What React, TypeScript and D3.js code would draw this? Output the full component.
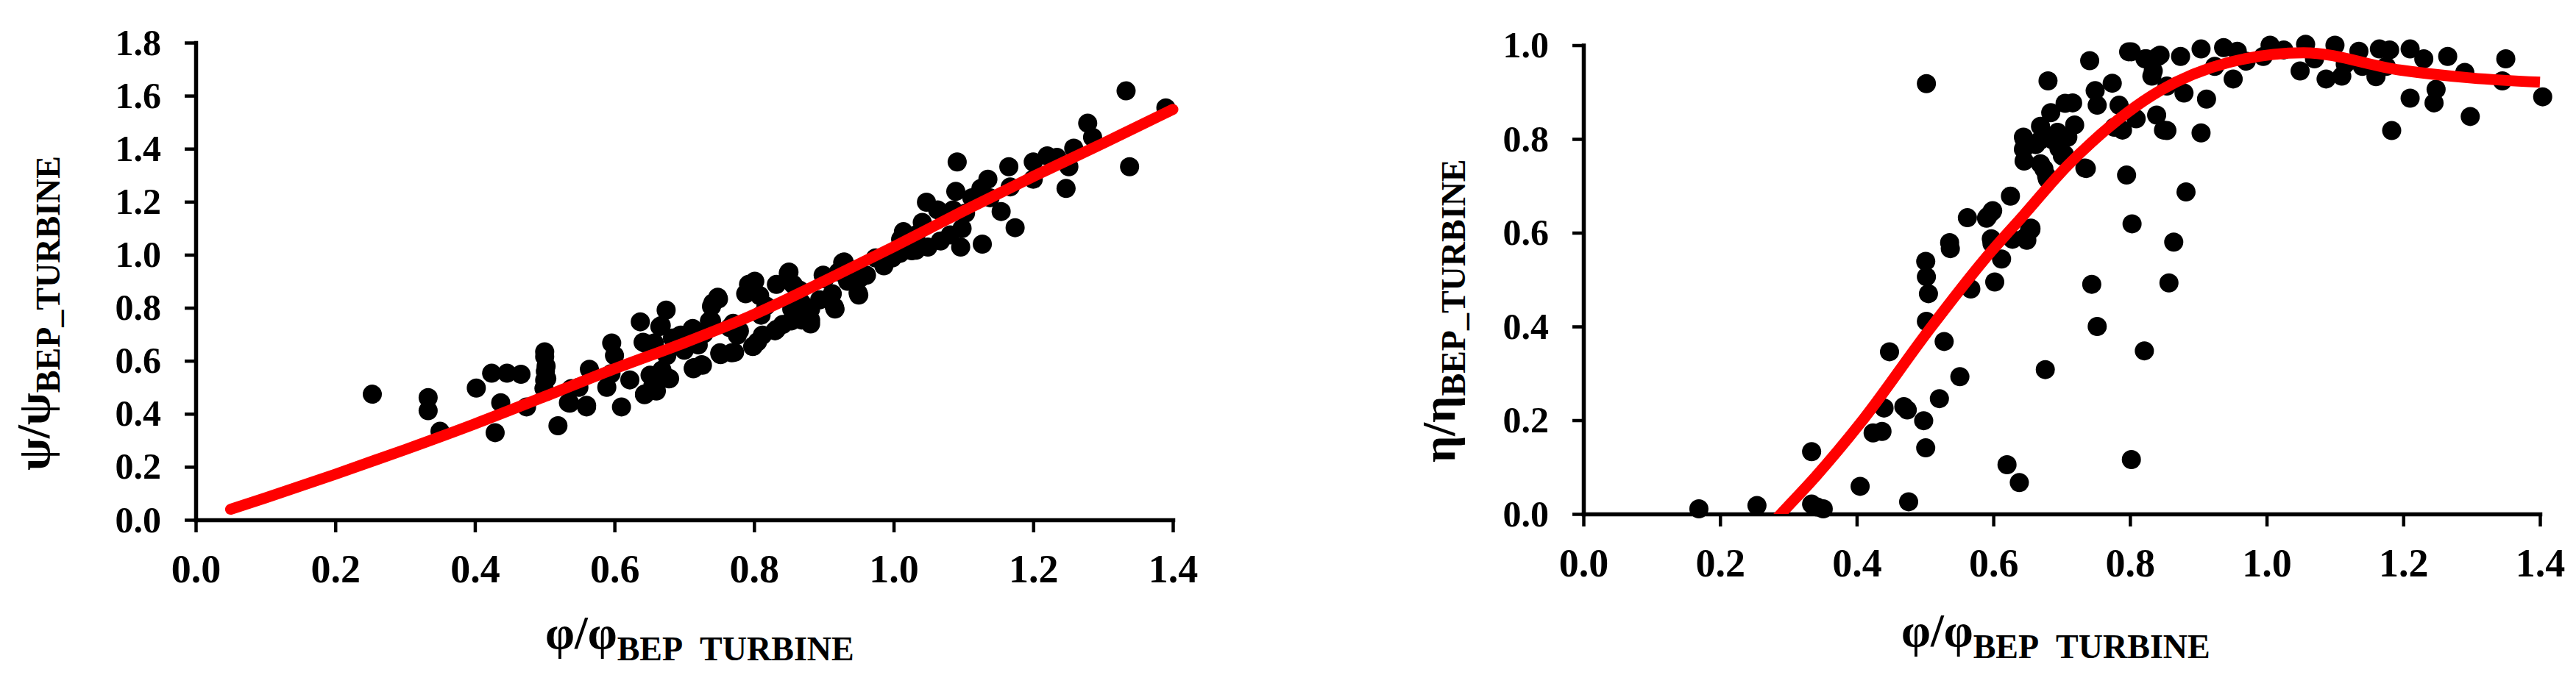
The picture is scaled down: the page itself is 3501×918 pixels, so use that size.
import { useEffect, useRef } from "react";
import * as d3 from "d3";

// ---- data ----
const phiTicks = [0, 0.2, 0.4, 0.6, 0.8, 1.0, 1.2, 1.4];
const headTicks = [0, 0.2, 0.4, 0.6, 0.8, 1.0, 1.2, 1.4, 1.6, 1.8];
const effTicks = [0, 0.2, 0.4, 0.6, 0.8, 1.0];

// left panel: psi/psi_BEP vs phi/phi_BEP (measured points)
const headPoints: [number, number][] = [
  [0.253, 0.474], [0.333, 0.461], [0.333, 0.412], [0.35, 0.334], [0.402, 0.497],
  [0.424, 0.553], [0.446, 0.553], [0.466, 0.549], [0.437, 0.442], [0.429, 0.329],
  [0.474, 0.426], [0.5, 0.634], [0.5, 0.616], [0.501, 0.56], [0.503, 0.533],
  [0.499, 0.496], [0.519, 0.355], [0.536, 0.44], [0.549, 0.5], [0.56, 0.426],
  [0.564, 0.568], [0.589, 0.5], [0.596, 0.667], [0.6, 0.62], [0.595, 0.551],
  [0.61, 0.426], [0.622, 0.528], [0.637, 0.747], [0.645, 0.665], [0.643, 0.472],
  [0.66, 0.486], [0.667, 0.733], [0.674, 0.791], [0.679, 0.533], [0.675, 0.62],
  [0.693, 0.694], [0.714, 0.574], [0.726, 0.583], [0.712, 0.722], [0.739, 0.805],
  [0.749, 0.833], [0.739, 0.75], [0.751, 0.63], [0.77, 0.741], [0.768, 0.63],
  [0.7, 0.64], [0.72, 0.66], [0.657, 0.667], [0.668, 0.565], [0.651, 0.546],
  [0.641, 0.67], [0.644, 0.475], [0.678, 0.532], [0.713, 0.573], [0.736, 0.75],
  [0.725, 0.585], [0.728, 0.702], [0.741, 0.818], [0.751, 0.626], [0.772, 0.632],
  [0.799, 0.655], [0.805, 0.672], [0.792, 0.888], [0.801, 0.9], [0.788, 0.853],
  [0.83, 0.713], [0.832, 0.888], [0.85, 0.935], [0.856, 0.888], [0.868, 0.754],
  [0.881, 0.754], [0.899, 0.923], [0.916, 0.795], [0.927, 0.97], [0.95, 0.848],
  [0.952, 0.912], [0.974, 0.988], [0.986, 0.958], [0.998, 0.988], [1.014, 1.087],
  [1.032, 1.017], [1.049, 1.029], [1.047, 1.198], [1.063, 1.169], [1.041, 1.122],
  [1.081, 1.075], [1.096, 1.029], [1.098, 1.099], [1.091, 1.35], [1.089, 1.239],
  [1.103, 1.157], [1.127, 1.04], [1.125, 1.25], [1.135, 1.285], [1.154, 1.163],
  [1.174, 1.102], [1.165, 1.332], [1.167, 1.256], [1.138, 1.215], [1.2, 1.35],
  [1.2, 1.285], [1.22, 1.373], [1.234, 1.367], [1.247, 1.25], [1.251, 1.332],
  [1.258, 1.402], [1.278, 1.496], [1.285, 1.443], [1.333, 1.618], [1.338, 1.332],
  [1.39, 1.554], [0.817, 0.807], [0.841, 0.737], [0.868, 0.818], [0.894, 0.83],
  [0.912, 0.853], [0.934, 0.9], [0.961, 0.923], [0.987, 0.982], [1.009, 1.005],
  [1.032, 1.075], [1.067, 1.052], [1.085, 1.169], [1.112, 1.215], [0.765, 0.725],
  [0.779, 0.713], [0.81, 0.772], [0.854, 0.795], [0.881, 0.795], [0.921, 0.935],
  [0.943, 0.935], [0.502, 0.58], [0.5, 0.527], [0.538, 0.495], [0.534, 0.442],
  [0.56, 0.432], [0.643, 0.474], [0.655, 0.506], [0.665, 0.729], [0.683, 0.686],
  [0.695, 0.697], [0.711, 0.718], [0.713, 0.57], [0.748, 0.84], [0.752, 0.623],
  [0.768, 0.729], [0.776, 0.697], [0.794, 0.872], [0.798, 0.654], [0.808, 0.846],
  [0.812, 0.697], [0.832, 0.718], [0.849, 0.93], [0.853, 0.75], [0.865, 0.867],
  [0.881, 0.739], [0.901, 0.909], [0.915, 0.803], [0.929, 0.973], [0.949, 0.856],
  [0.949, 0.909], [1.01, 1.058], [1.026, 1.015],
];

// left panel fitted curve
const headCurve: [number, number][] = [
  [0.05, 0.04], [0.1, 0.083], [0.2, 0.172], [0.3, 0.265], [0.4, 0.362],
  [0.5, 0.465], [0.6, 0.57], [0.7, 0.668], [0.8, 0.775], [0.9, 0.9],
  [1.0, 1.03], [1.1, 1.165], [1.2, 1.295], [1.3, 1.42], [1.4, 1.548],
];

// right panel: eta/eta_BEP vs phi/phi_BEP (measured points)
const effPoints: [number, number][] = [
  [0.169, 0.011], [0.254, 0.018], [0.334, 0.133], [0.334, 0.021], [0.351, 0.011],
  [0.342, 0.015], [0.405, 0.059], [0.448, 0.346], [0.424, 0.173], [0.437, 0.176],
  [0.44, 0.226], [0.469, 0.229], [0.474, 0.222], [0.476, 0.026], [0.498, 0.199],
  [0.501, 0.141], [0.502, 0.918], [0.501, 0.539], [0.502, 0.506], [0.505, 0.47],
  [0.502, 0.411], [0.528, 0.368], [0.521, 0.246], [0.551, 0.293], [0.537, 0.566],
  [0.562, 0.632], [0.592, 0.635], [0.598, 0.645], [0.598, 0.577], [0.612, 0.544],
  [0.602, 0.495], [0.567, 0.48], [0.625, 0.678], [0.628, 0.586], [0.646, 0.589],
  [0.655, 0.607], [0.676, 0.308], [0.62, 0.105], [0.638, 0.067], [0.68, 0.924],
  [0.684, 0.856], [0.645, 0.8], [0.645, 0.753], [0.669, 0.827], [0.678, 0.721],
  [0.669, 0.747], [0.705, 0.876], [0.687, 0.8], [0.696, 0.78],
  [0.741, 0.967], [0.716, 0.877], [0.802, 0.986], [0.824, 0.971], [0.844, 0.979],
  [0.874, 0.976], [0.904, 0.992], [0.937, 0.995], [0.957, 0.987], [1.005, 1.0],
  [1.057, 1.002], [1.1, 1.0], [1.135, 0.987], [1.165, 0.992], [1.18, 0.99],
  [1.21, 0.992], [1.23, 0.971], [1.265, 0.976], [1.29, 0.942], [1.35, 0.971],
  [1.345, 0.924], [1.404, 0.89], [1.21, 0.887], [1.248, 0.906], [1.245, 0.877],
  [1.298, 0.848], [1.183, 0.818], [1.049, 0.945], [1.087, 0.928], [1.11, 0.934],
  [1.16, 0.933], [1.175, 0.955], [1.115, 0.96], [1.07, 0.971], [0.951, 0.928],
  [0.912, 0.885], [0.904, 0.813], [0.854, 0.818], [0.882, 0.687], [0.795, 0.723],
  [0.803, 0.619], [0.864, 0.58], [0.857, 0.493], [0.744, 0.49], [0.736, 0.737],
  [0.653, 0.606], [0.649, 0.584], [0.839, 0.851], [0.809, 0.843], [0.789, 0.819],
  [0.774, 0.919], [0.749, 0.903], [0.752, 0.872], [0.784, 0.872], [0.834, 0.945],
  [0.854, 0.913], [0.879, 0.898], [0.924, 0.955], [0.97, 0.966], [0.995, 0.976],
  [1.025, 0.99], [1.14, 0.955], [0.669, 0.798], [0.694, 0.814], [0.719, 0.83],
  [0.674, 0.736], [0.679, 0.715], [0.704, 0.767], [0.644, 0.778], [0.644, 0.804],
  [0.802, 0.116], [0.821, 0.348], [0.752, 0.4], [0.599, 0.647], [0.59, 0.631],
  [0.701, 0.764], [0.734, 0.738], [0.798, 0.986], [0.822, 0.971], [0.841, 0.976],
  [0.832, 0.934], [0.777, 0.825], [0.849, 0.819], [0.655, 0.61], [0.597, 0.587],
  [0.536, 0.579], [0.687, 0.798], [0.709, 0.804], [0.662, 0.788],
];

// right panel fitted curve
const effCurve: [number, number][] = [
  [0.27, -0.03], [0.289, 0.0], [0.34, 0.08], [0.406, 0.195], [0.505, 0.391],
  [0.587, 0.543], [0.644, 0.637], [0.709, 0.744], [0.744, 0.793], [0.844, 0.903],
  [0.944, 0.963], [1.054, 0.984], [1.195, 0.947], [1.3, 0.93], [1.4, 0.921],
];

const FONT = "'Liberation Serif', 'Times New Roman', serif";
const fmt = d3.format(".1f");

type PanelProps = {
  id: string;
  xRange: [number, number];
  yRange: [number, number];
  yMax: number;
  yTicks: number[];
  points: [number, number][];
  curve: [number, number][];
  cap: "round" | "butt";
  yLabel: string;
  yLabelPos: [number, number];
  xLabelPos: [number, number];
};

const Panel = ({ id, xRange, yRange, yMax, yTicks, points, curve, cap, yLabel, yLabelPos, xLabelPos }: PanelProps) => {
  const gx = useRef<SVGGElement>(null);
  const gy = useRef<SVGGElement>(null);

  const x = d3.scaleLinear().domain([0, 1.4]).range(xRange);
  const y = d3.scaleLinear().domain([0, yMax]).range(yRange);

  useEffect(() => {
    const ax = d3.axisBottom(x).tickValues(phiTicks).tickFormat((d) => fmt(+d))
      .tickSizeInner(17).tickSizeOuter(0).tickPadding(30);
    const ay = d3.axisLeft(y).tickValues(yTicks).tickFormat((d) => fmt(+d))
      .tickSizeInner(15).tickSizeOuter(0).tickPadding(32);
    const sx = d3.select(gx.current!).call(ax);
    const sy = d3.select(gy.current!).call(ay);
    sx.attr("font-size", 54);
    sy.attr("font-size", 50);
    [sx, sy].forEach((s) => {
      s.attr("font-family", FONT).attr("font-weight", "bold");
      s.select(".domain").attr("stroke-width", 5.5).attr("stroke-linecap", "square");
      s.selectAll(".tick line").attr("stroke-width", 4.5);
      s.selectAll(".tick text").attr("fill", "#000");
    });
  });

  const line = d3.line<[number, number]>()
    .x((d) => x(d[0]))
    .y((d) => y(d[1]))
    .curve(d3.curveMonotoneX);

  return (
    <g>
      <defs>
        <clipPath id={id}>
          <rect x={xRange[0]} y={0} width={xRange[1] - xRange[0] + 20} height={yRange[0]} />
        </clipPath>
      </defs>
      <g ref={gx} transform={`translate(0,${yRange[0]})`} />
      <g ref={gy} transform={`translate(${xRange[0]},0)`} />
      {points.map((p, i) => (
        <circle key={i} cx={x(p[0])} cy={y(p[1])} r={13} fill="#000" />
      ))}
      <path d={line(curve)!} fill="none" stroke="#ff0000" strokeWidth={15}
        strokeLinecap={cap} clipPath={`url(#${id})`} />
      <text transform={`translate(${yLabelPos[0]},${yLabelPos[1]}) rotate(-90)`}
        fontFamily={FONT} fontWeight="bold" fontSize={64}>
        {yLabel}/{yLabel}
        <tspan fontSize={46} dy={14}>BEP_TURBINE</tspan>
      </text>
      <text x={xLabelPos[0]} y={xLabelPos[1]} fontFamily={FONT} fontWeight="bold" fontSize={64}>
        φ/φ
        <tspan fontSize={46} dy={16}>{"BEP\u00A0\u00A0TURBINE"}</tspan>
      </text>
    </g>
  );
};

const App = () => (
  <svg width={3501} height={918} style={{ position: "absolute", left: 0, top: 0, background: "#fff" }}>
    <rect width={3501} height={918} fill="#fff" />
    <Panel id="clipHead" xRange={[266, 1594]} yRange={[707, 58]} yMax={1.8} yTicks={headTicks}
      points={headPoints} curve={headCurve} cap="round" yLabel="ψ"
      yLabelPos={[67, 640]} xLabelPos={[741, 882]} />
    <Panel id="clipEff" xRange={[2152, 3452]} yRange={[699, 61.5]} yMax={1.0} yTicks={effTicks}
      points={effPoints} curve={effCurve} cap="butt" yLabel="η"
      yLabelPos={[1977, 629]} xLabelPos={[2584, 879]} />
  </svg>
);

export default App;
